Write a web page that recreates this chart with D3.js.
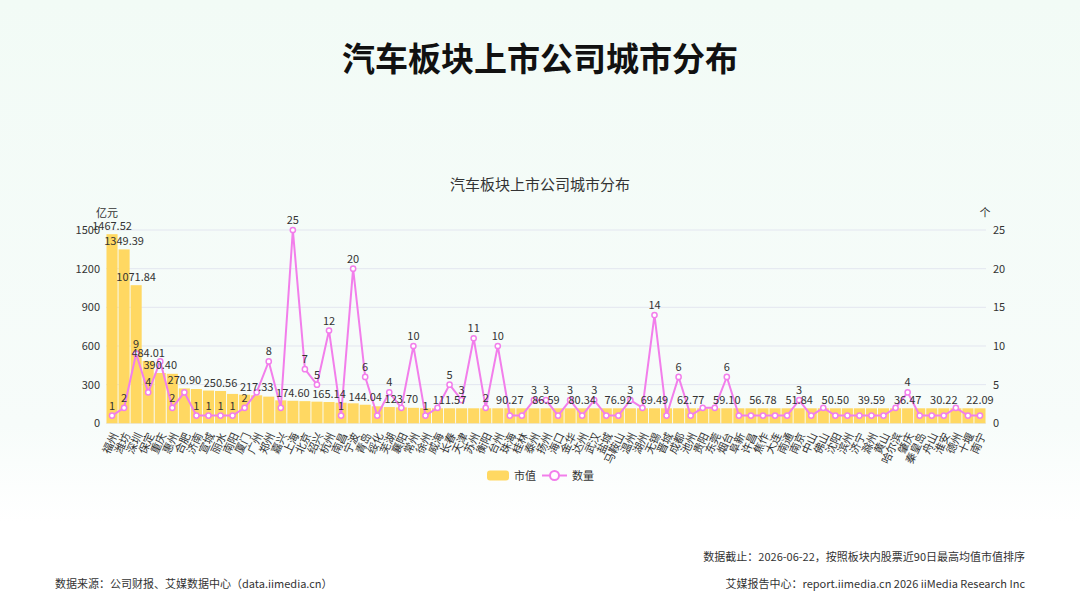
<!DOCTYPE html>
<html><head><meta charset="utf-8">
<script src="https://cdn.jsdelivr.net/npm/d3@7"></script>
<style>
body{margin:0;background:#fff;}
svg{display:block;font-family:"Noto Sans CJK SC","Noto Sans",sans-serif;}
</style>
</head><body><svg id="c" width="1080" height="608"></svg>
<script>
const cities = ["福州","潍坊","深圳","保定","重庆","惠州","合肥","济南","宣城","丽水","南阳","厦门","广州","郑州","嘉兴","上海","北京","绍兴","杭州","南昌","宁波","青岛","绥化","芜湖","襄阳","常州","徐州","威海","长春","天津","苏州","衡阳","台州","珠海","桂林","泰州","扬州","海口","金华","达州","武汉","盐城","马鞍山","温州","湖州","无锡","晋城","成都","池州","贵阳","东莞","烟台","阜新","许昌","焦作","大连","南通","南京","中山","佛山","沈阳","滨州","济宁","滁州","黄山","哈尔滨","肇庆","秦皇岛","舟山","淮安","德州","十堰","南宁"];
const marketCap = [1467.52,1349.39,1071.84,484.01,390.40,384,270.90,266,254,250.56,228,222,217.33,207,178,174.60,172,168,165.14,160,155,144.04,132,126,123.70,120,117,114,111.57,105,100,95,92,90.27,89,88,86.59,84,82,80.34,79,78,76.92,74,71,69.49,67,65,62.77,61,60,59.10,58,57.5,56.78,55,53,51.84,51.5,51,50.50,46,42,39.59,38,37,36.47,33,31,30.22,27,24,22.09];
const companyCount = [1,2,9,4,8,2,4,1,1,1,1,2,4,8,2,25,7,5,12,1,20,6,1,4,2,10,1,2,5,3,11,2,10,1,1,3,3,1,3,1,3,1,1,3,2,14,1,6,1,2,2,6,1,1,1,1,1,3,1,2,1,1,1,1,1,2,4,1,1,1,2,1,1];
const leftTicks = [0,300,600,900,1200,1500];
const rightTicks = [0,5,10,15,20,25];
// indices whose value labels are visible (others hidden to avoid overlap)
const barLabelIdx = [0,1,2,3,4,6,9,12,15,18,21,24,28,33,36,39,42,45,48,51,54,57,60,63,66,69,72];
const lineLabelIdx = [0,1,2,3,5,7,8,9,10,11,13,15,16,17,18,19,20,21,23,25,26,28,29,30,31,32,35,36,38,40,43,45,47,51,57,66];

const svg = d3.select("#c");
const W = 1080, H = 608;
const pLeft = 106, pRight = 986, pTop = 230, pBottom = 423.3;
const barColor = "#FFD862", lineColor = "#F27EEB", textColor = "#333";

// background
const defs = svg.append("defs");
const bg = defs.append("linearGradient").attr("id","bg").attr("x1",0).attr("y1",0).attr("x2",0).attr("y2",1);
bg.append("stop").attr("offset","0%").attr("stop-color","#f2fbf6");
bg.append("stop").attr("offset","70%").attr("stop-color","#f7fcfa");
bg.append("stop").attr("offset","86%").attr("stop-color","#ffffff");
svg.append("rect").attr("width",W).attr("height",H).attr("fill","url(#bg)");

// titles
svg.append("text").attr("x",540).attr("y",71).attr("text-anchor","middle")
  .attr("font-size",33).attr("font-weight","bold").attr("fill","#111").text("汽车板块上市公司城市分布");
svg.append("text").attr("x",540).attr("y",190).attr("text-anchor","middle")
  .attr("font-size",15).attr("fill","#333").text("汽车板块上市公司城市分布");

const x = d3.scaleBand().domain(cities).range([pLeft,pRight]).paddingInner(0.08).paddingOuter(0.04);
const yL = d3.scaleLinear().domain([0,1500]).range([pBottom,pTop]);
const yR = d3.scaleLinear().domain([0,25]).range([pBottom,pTop]);
const cx = c => x(c) + x.bandwidth()/2;

// grid
svg.append("g").selectAll("line").data(leftTicks).join("line")
  .attr("x1",pLeft).attr("x2",pRight).attr("y1",d=>yL(d)).attr("y2",d=>yL(d))
  .attr("stroke","#e3e6f0").attr("stroke-width",1);

// axes
const gL = svg.append("g").attr("transform",`translate(${pLeft},0)`)
  .call(d3.axisLeft(yL).tickValues(leftTicks).tickFormat(d3.format("d")).tickSize(0).tickPadding(6));
const gR = svg.append("g").attr("transform",`translate(${pRight},0)`)
  .call(d3.axisRight(yR).tickValues(rightTicks).tickFormat(d3.format("d")).tickSize(0).tickPadding(7));
[gL,gR].forEach(g=>{g.select(".domain").remove();
  g.selectAll("text").attr("font-size",11).attr("fill",textColor).attr("font-family",'"Noto Sans CJK SC",sans-serif');});
svg.append("text").attr("x",107).attr("y",217).attr("text-anchor","middle").attr("font-size",11).attr("fill",textColor).text("亿元");
svg.append("text").attr("x",985).attr("y",217).attr("text-anchor","middle").attr("font-size",11).attr("fill",textColor).text("个");

// bars (min visible height)
const minH = 15;
const barTop = (v) => Math.min(yL(v), pBottom - minH);
svg.append("g").selectAll("rect").data(cities).join("rect")
  .attr("x",d=>x(d)).attr("width",x.bandwidth())
  .attr("y",(d,i)=>barTop(marketCap[i])).attr("height",(d,i)=>pBottom-barTop(marketCap[i]))
  .attr("fill",barColor);

// x axis labels
const gx = svg.append("g").attr("transform",`translate(0,${pBottom})`)
  .call(d3.axisBottom(x).tickSize(0).tickPadding(0));
gx.select(".domain").remove();
gx.selectAll("text").attr("font-size",11).attr("fill",textColor)
  .attr("font-family",'"Noto Sans CJK SC",sans-serif')
  .attr("text-anchor","end").attr("dy","0.35em")
  .attr("transform","translate(3,10) rotate(-65)").attr("x",0).attr("y",0);

// line
const line = d3.line().x((d,i)=>cx(cities[i])).y(d=>yR(d));
svg.append("path").datum(companyCount).attr("d",line).attr("fill","none")
  .attr("stroke",lineColor).attr("stroke-width",2);
svg.append("g").selectAll("circle").data(companyCount).join("circle")
  .attr("cx",(d,i)=>cx(cities[i])).attr("cy",d=>yR(d)).attr("r",2.6)
  .attr("fill","#fff").attr("stroke",lineColor).attr("stroke-width",1.5);

// labels
svg.append("g").selectAll("text").data(barLabelIdx).join("text")
  .attr("x",i=>cx(cities[i])).attr("y",i=>barTop(marketCap[i])-4)
  .attr("text-anchor","middle").attr("font-size",11).attr("fill",textColor)
  .text(i=>marketCap[i].toFixed(2));
svg.append("g").selectAll("text").data(lineLabelIdx).join("text")
  .attr("x",i=>cx(cities[i])).attr("y",i=>yR(companyCount[i])-6)
  .attr("text-anchor","middle").attr("font-size",11).attr("fill",textColor)
  .text(i=>companyCount[i]);

// legend
const lg = svg.append("g");
lg.append("rect").attr("x",487).attr("y",470.5).attr("width",22).attr("height",10).attr("rx",3).attr("fill",barColor);
lg.append("text").attr("x",514).attr("y",479.5).attr("font-size",11).attr("fill",textColor).text("市值");
lg.append("line").attr("x1",542).attr("x2",567).attr("y1",475.5).attr("y2",475.5).attr("stroke",lineColor).attr("stroke-width",2);
lg.append("circle").attr("cx",554.5).attr("cy",475.5).attr("r",4.5).attr("fill","#fff").attr("stroke",lineColor).attr("stroke-width",2);
lg.append("text").attr("x",572).attr("y",479.5).attr("font-size",11).attr("fill",textColor).text("数量");

// footer
svg.append("text").attr("x",1025).attr("y",561).attr("text-anchor","end").attr("font-size",11).attr("fill","#333")
  .text("数据截止：2026-06-22，按照板块内股票近90日最高均值市值排序");
svg.append("text").attr("x",55).attr("y",588).attr("font-size",11).attr("fill","#333")
  .text("数据来源：公司财报、艾媒数据中心（data.iimedia.cn）");
svg.append("text").attr("x",1025).attr("y",588).attr("text-anchor","end").attr("font-size",11).attr("fill","#333")
  .text("艾媒报告中心：report.iimedia.cn   2026 iiMedia Research Inc");
</script>
</body></html>
